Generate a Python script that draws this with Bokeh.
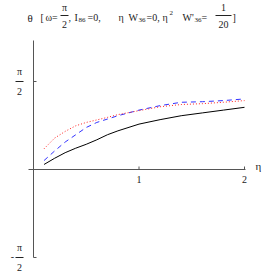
import math
from bokeh.plotting import figure
from bokeh.embed import file_html
from bokeh.resources import INLINE
from bokeh.core.properties import value

# ---- data ----
eta = [0.1, 0.2, 0.3, 0.4, 0.5, 0.6, 0.7, 0.8, 1.0, 1.2, 1.4, 1.6, 1.8, 2.0]
theta_black = [0.09, 0.20, 0.30, 0.38, 0.45, 0.53, 0.62, 0.69, 0.81, 0.89, 0.96, 1.01, 1.06, 1.11]
theta_red = [0.37, 0.56, 0.68, 0.78, 0.84, 0.885, 0.93, 0.98, 1.05, 1.12, 1.16, 1.175, 1.20, 1.23]
theta_blue = [0.16, 0.33, 0.49, 0.62, 0.75, 0.84, 0.90, 0.96, 1.06, 1.14, 1.20, 1.21, 1.23, 1.26]
x_ticks = [1, 2]
x_tick_labels = ["1", "2"]
y_ticks = [math.pi / 2, -math.pi / 2]

# ---- layout helpers (page pixel -> data) ----
SX = 105.5
SY = 56.02
def X(px):
    return (px - 33) / SX
def Y(py):
    return (169 - py) / SY

W = H = 273
p = figure(width=W, height=H, output_backend="svg", toolbar_location=None,
           x_range=(X(0), X(W)), y_range=(Y(H), Y(0)),
           x_axis_type=None, y_axis_type=None, min_border=0)
p.grid.visible = False
p.outline_line_color = None
p.background_fill_color = "white"

AX = "#555555"
FONT = value("Liberation Serif")

# axes
p.segment(x0=[X(28)], y0=[0], x1=[X(245)], y1=[0], line_color=AX, line_width=1)
p.segment(x0=[0], y0=[-math.pi / 2], x1=[0], y1=[Y(40)], line_color=AX, line_width=1)
# x ticks (upwards)
p.segment(x0=x_ticks, y0=[0] * len(x_ticks), x1=x_ticks, y1=[3 / SY] * len(x_ticks),
          line_color=AX, line_width=1)
# y ticks (to the right)
p.segment(x0=[0] * len(y_ticks), y0=y_ticks, x1=[3 / SX] * len(y_ticks), y1=y_ticks,
          line_color=AX, line_width=1)

# curves
p.line(eta, theta_black, line_color="black", line_width=1)
p.line(eta, theta_blue, line_color="#3333ff", line_width=1, line_dash="5 4")
p.line(eta, theta_red, line_color="#ff2222", line_width=1, line_dash="1 2")

def txt(x, y, s, size="10px", align="left", color="#222222"):
    p.text(x=[x], y=[y], text=[s], text_font=FONT, text_font_size=size,
           text_align=align, text_baseline="middle", text_color=color)

# x tick labels
for t, lab in zip(x_ticks, x_tick_labels):
    txt(t, Y(179), lab, align="center")
txt(X(258), Y(165), "η", size="11px", align="center")

# fractions
def frac(cx, ytop, ybar, ybot, num, den, halfw, size="10px"):
    txt(cx, ytop, num, size=size, align="center")
    p.segment(x0=[cx - halfw / SX], y0=[ybar], x1=[cx + halfw / SX], y1=[ybar],
              line_color="#222222", line_width=1)
    txt(cx, ybot, den, size=size, align="center")

# y tick labels
frac(X(19), Y(71), Y(81), Y(91), "π", "2", 4)
txt(X(12), Y(256), "-", align="center")
frac(X(19), Y(247), Y(257), Y(267), "π", "2", 4)

# title
ty = Y(17)
txt(X(27), ty, "θ", size="11px")
txt(X(40), ty, "[")
txt(X(45), ty, "ω=")
frac(X(64), Y(7), Y(15), Y(24), "π", "2", 4)
txt(X(68), ty, ",")
txt(X(74), ty, "I")
txt(X(78), Y(19), "86", size="7px")
txt(X(87), ty, "=0,")
txt(X(118), ty, "η")
txt(X(128), ty, "W")
txt(X(138), Y(19), "36", size="7px")
txt(X(146), ty, "=0,")
txt(X(162), ty, "η")
txt(X(169), Y(12), "2", size="7px")
txt(X(182), ty, "W'")
txt(X(194), Y(19), "36", size="7px")
txt(X(201), ty, "=")
frac(X(223), Y(7), Y(15), Y(24), "1", "20", 8)
txt(X(232), ty, "]")

open("out.html", "w").write(file_html(p, INLINE))
